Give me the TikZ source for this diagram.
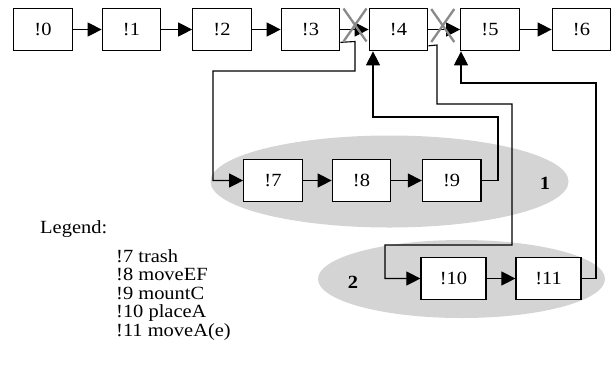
\documentclass[tikz,border=0pt]{standalone}
\usepackage{fontspec}
\setmainfont{Liberation Serif}[FakeStretch=1.1]
\usetikzlibrary{arrows.meta,calc}
\definecolor{blobgrey}{HTML}{D4D4D4}
\definecolor{crossgrey}{HTML}{8A8A8A}
\tikzset{
  box/.style={draw=black, line width=1.2pt, fill=white, minimum height=42.5pt,
    minimum width=58.5pt, inner sep=0pt, font=\fontsize{18.6}{18.5}\selectfont},
  widebox/.style={box, minimum width=65pt},
  link/.style={line width=1.1pt, -{Triangle[length=14pt,width=14pt]}},
  cut/.style={draw=crossgrey, line width=2.3pt},
  blob/.style={fill=blobgrey, draw=none},
  tag/.style={font=\fontsize{18.6}{18.5}\selectfont\bfseries},
  legendtext/.style={font=\fontsize{18.6}{18.5}\selectfont, inner sep=0pt, anchor=base west}
}
\begin{document}
\begin{tikzpicture}[x=1pt,y=-1pt]
\useasboundingbox (0,0) rectangle (612,365);

% grey groups
\fill[blob] (389.5,181.5) ellipse [x radius=179, y radius=46];
\fill[blob] (461.5,279) ellipse [x radius=143.5, y radius=39];

% main sequence
\node[box] (n0) at (43,29.5) {!0};
\node[box] (n1) at (131.5,29.5) {!1};
\node[box] (n2) at (222,29.5) {!2};
\node[box] (n3) at (310.5,29.5) {!3};
\node[box] (n4) at (398.5,29.5) {!4};
\node[box] (n5) at (490,29.5) {!5};
\node[box] (n6) at (581.5,29.5) {!6};

% group 1
\node[box] (n7) at (273,180.5) {!7};
\node[box] (n8) at (361.5,180.5) {!8};
\node[box] (n9) at (451.7,180.5) {!9};

% group 2
\node[widebox] (n10) at (453.5,278.5) {!10};
\node[widebox] (n11) at (548.5,278.5) {!11};

\node[tag] (g1) at (545,183) {1};
\node[tag] (g2) at (353,282) {2};

% straight links
\draw[link] (n0) -- (n1);
\draw[link] (n1) -- (n2);
\draw[link] (n2) -- (n3);
\draw[link] (n3) -- (n4);
\draw[link] (n4) -- (n5);
\draw[link] (n5) -- (n6);
\draw[link] (n7) -- (n8);
\draw[link] (n8) -- (n9);
\draw[link] (n10) -- (n11);

% detour through group 1
\coordinate (a0) at ($(n3.south east)+(0,-9)$);
\draw[link] (a0) -- (355,41.5) -- (355,71) -- (213,71) -- (213,180.5) -- (n7.west);
\draw[link] (n9.east) -- (498,180.5) -- (498,117) -- (373,117) -- (373,0 |- n4.south);

% detour through group 2
\coordinate (b0) at ($(n4.south east)+(0,-5.5)$);
\draw[link] (b0) -- (437,45) -- (437,104) -- (512,104) -- (512,245) -- (385,245) -- (385,278.5) -- (n10.west);
\draw[link] (n11.east) -- (596,278.5) -- (596,83) -- (461,83) -- (461,0 |- n5.south);

% removed links
\coordinate (x1) at ($(n3.east)!0.5!(n4.west)+(0.5,-4.5)$);
\draw[cut] ($(x1)+(-11.5,-16.5)$) -- ($(x1)+(11.5,16.5)$);
\draw[cut] ($(x1)+(11.5,-16.5)$) -- ($(x1)+(-11.5,16.5)$);
\coordinate (x2) at ($(n4.east)!0.5!(n5.west)+(-1.5,-4)$);
\draw[cut] ($(x2)+(-11.5,-16.5)$) -- ($(x2)+(11.5,16.5)$);
\draw[cut] ($(x2)+(11.5,-16.5)$) -- ($(x2)+(-11.5,16.5)$);

% legend
\node[legendtext] (lt) at (40,233) {Legend:};
\node[legendtext] (l7) at (116,262) {!7 trash};
\node[legendtext] (l8) at (116,280.5) {!8 moveEF};
\node[legendtext] (l9) at (116,299) {!9 mountC};
\node[legendtext] (l10) at (116,317.5) {!10 placeA};
\node[legendtext] (l11) at (116,336) {!11 moveA(e)};
\end{tikzpicture}
\end{document}
